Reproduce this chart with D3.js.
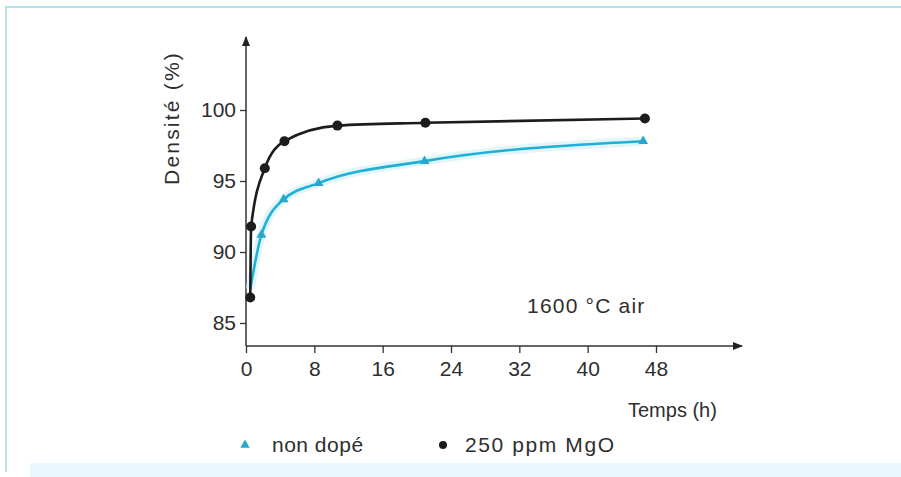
<!DOCTYPE html>
<html>
<head>
<meta charset="utf-8">
<script src="https://cdn.jsdelivr.net/npm/d3@7"></script>
<style>
  body { margin: 0; background: #fff; }
  svg { display: block; font-family: "Liberation Sans", Arial, sans-serif; }
</style>
</head>
<body>
<div id="chart"></div>
<script>
// Data
const xTicks = [0, 8, 16, 24, 32, 40, 48];
const yTicks = [85, 90, 95, 100];
const timeMgO = [0.5, 0.6, 2.2, 4.5, 10.7, 21, 46.7];
const densMgO = [86.8, 91.8, 95.9, 97.8, 98.9, 99.1, 99.4];
const timeNon = [0.5, 1.8, 4.4, 8.5, 20.9, 46.5];
const densNon = [87.4, 91.2, 93.7, 94.85, 96.4, 97.8];
const legendLabels = ["non dopé", "250 ppm MgO"];

window.addEventListener("DOMContentLoaded", function() {
    const width = 901, height = 477;
    const blue = "#1eb0d6", black = "#1c1c1c", textCol = "#2e2e2e";

    const svg = d3.select("#chart").append("svg")
        .attr("width", width).attr("height", height);

    // page frame
    svg.append("line").attr("x1", 5).attr("x2", width).attr("y1", 7).attr("y2", 7)
        .attr("stroke", "#b6e3ea").attr("stroke-width", 2);
    svg.append("line").attr("x1", 6).attr("x2", 6).attr("y1", 7).attr("y2", 472)
        .attr("stroke", "#a9d9de").attr("stroke-width", 1.5);
    svg.append("rect").attr("x", 30).attr("y", 463).attr("width", width - 30).attr("height", 14)
        .attr("fill", "#e8f8fc");

    // scales
    const x = d3.scaleLinear().domain([0, 48]).range([246, 656]);
    const y = d3.scaleLinear().domain([85, 100]).range([323, 110]);
    const x0 = x(0), yAxisPos = 346;

    // arrow marker
    svg.append("defs").append("marker")
        .attr("id", "arrow").attr("viewBox", "0 0 10 10")
        .attr("refX", 9).attr("refY", 5)
        .attr("markerWidth", 18).attr("markerHeight", 10)
        .attr("markerUnits", "userSpaceOnUse")
        .attr("orient", "auto")
        .append("path").attr("d", "M0,1 L10,5 L0,9 Z").attr("fill", "#222");

    // axis lines
    svg.append("line").attr("x1", x0).attr("x2", x0).attr("y1", yAxisPos).attr("y2", 37)
        .attr("stroke", "#333").attr("stroke-width", 1.5).attr("marker-end", "url(#arrow)");
    svg.append("line").attr("x1", x0).attr("x2", 742).attr("y1", yAxisPos).attr("y2", yAxisPos)
        .attr("stroke", "#333").attr("stroke-width", 1.5).attr("marker-end", "url(#arrow)");

    // axes ticks
    const yAxis = svg.append("g").attr("transform", `translate(${x0},0)`)
        .call(d3.axisLeft(y).tickValues(yTicks).tickSize(6).tickPadding(4));
    const xAxis = svg.append("g").attr("transform", `translate(0,${yAxisPos})`)
        .call(d3.axisBottom(x).tickValues(xTicks).tickSize(7).tickPadding(8));
    [xAxis, yAxis].forEach(g => {
        g.select(".domain").remove();
        g.selectAll(".tick line").attr("stroke", "#333").attr("stroke-width", 1.3);
        g.selectAll(".tick text").attr("fill", textCol)
            .style("font-size", "21px").style("font-family", "Liberation Sans, Arial, sans-serif");
    });

    // axis titles
    svg.append("text").attr("transform", "translate(179,118) rotate(-90)")
        .attr("text-anchor", "middle").attr("fill", textCol)
        .style("font-size", "21px").style("letter-spacing", "2.2px")
        .text("Densité (%)");
    svg.append("text").attr("x", 628).attr("y", 417).attr("fill", textCol)
        .style("font-size", "20px")
        .text("Temps (h)");
    svg.append("text").attr("x", 527).attr("y", 313).attr("fill", textCol)
        .style("font-size", "21px").style("letter-spacing", "1.2px")
        .text("1600 °C air");

    // series
    const line = d3.line().x(d => x(d[0])).y(d => y(d[1])).curve(d3.curveMonotoneX);
    const nonData = timeNon.map((t, i) => [t, densNon[i]]);
    const mgoData = timeMgO.map((t, i) => [t, densMgO[i]]);

    svg.append("path").attr("d", line(nonData)).attr("fill", "none")
        .attr("stroke", "#d4f1f9").attr("stroke-width", 9).attr("stroke-opacity", 0.7);
    svg.append("path").attr("d", line(nonData)).attr("fill", "none")
        .attr("stroke", blue).attr("stroke-width", 2.6);
    svg.append("path").attr("d", line(mgoData)).attr("fill", "none")
        .attr("stroke", black).attr("stroke-width", 2.6);

    const tri = d3.symbol().type(d3.symbolTriangle).size(42);
    svg.selectAll(".tri").data(nonData.slice(1)).enter().append("path")
        .attr("class", "tri").attr("d", tri)
        .attr("transform", d => `translate(${x(d[0])},${y(d[1])})`)
        .attr("fill", "#2aa7cc");
    svg.selectAll(".dot").data(mgoData).enter().append("circle")
        .attr("class", "dot").attr("cx", d => x(d[0])).attr("cy", d => y(d[1]))
        .attr("r", 5).attr("fill", black);

    // legend
    const leg = svg.append("g");
    leg.append("path").attr("d", d3.symbol().type(d3.symbolTriangle).size(38))
        .attr("transform", "translate(245,445)").attr("fill", "#2aa7cc");
    leg.append("text").attr("x", 272).attr("y", 452).attr("fill", textCol)
        .style("font-size", "21px").style("letter-spacing", "0.5px").text(legendLabels[0]);
    leg.append("circle").attr("cx", 443).attr("cy", 445).attr("r", 4).attr("fill", black);
    leg.append("text").attr("x", 465).attr("y", 452).attr("fill", textCol)
        .style("font-size", "21px").style("letter-spacing", "1.6px")
        .text(legendLabels[1]);
});
</script>
</body>
</html>
